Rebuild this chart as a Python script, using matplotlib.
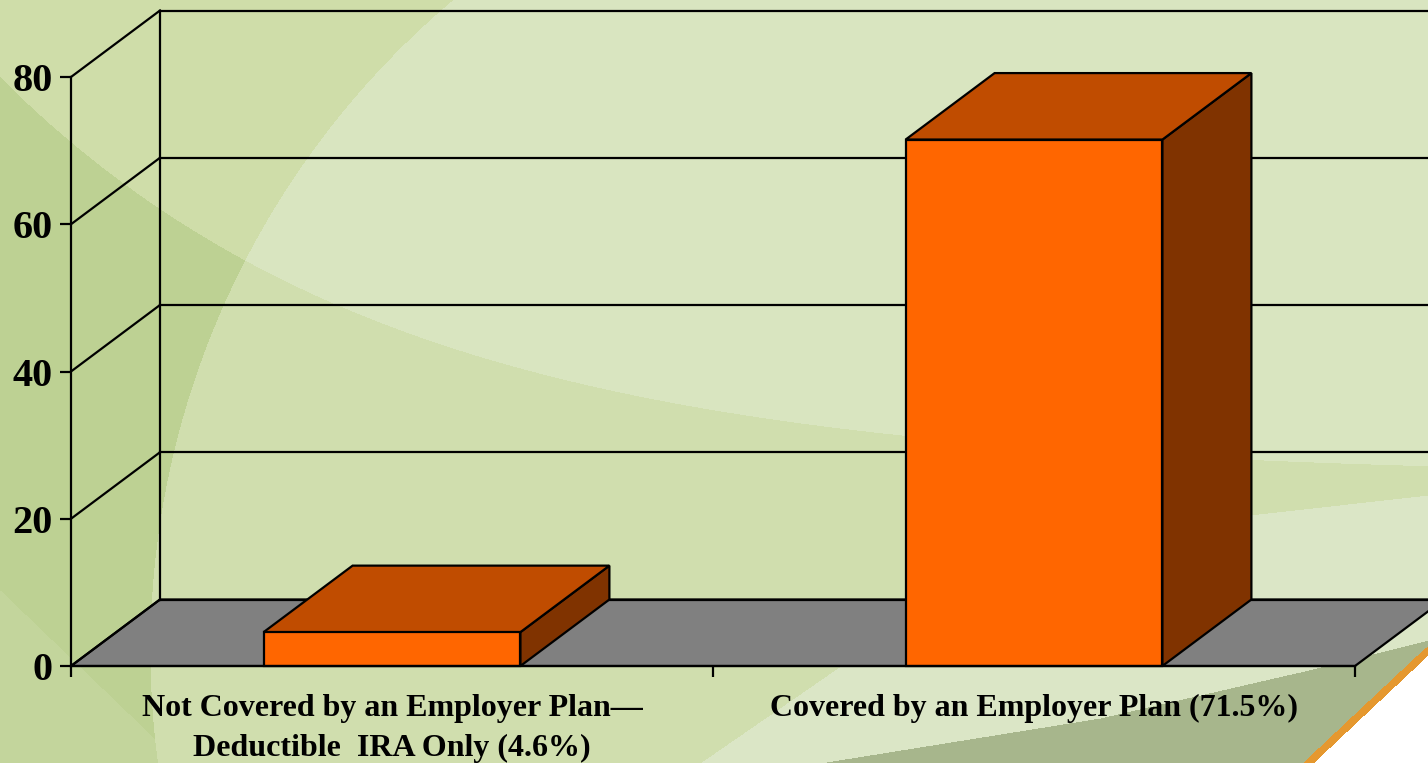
import numpy as np
import matplotlib
matplotlib.use("Agg")
import matplotlib.pyplot as plt
from matplotlib.patches import Polygon, Rectangle

# ---- data ----
categories = ["Not Covered by an Employer Plan\u2014\nDeductible  IRA Only (4.6%)",
              "Covered by an Employer Plan (71.5%)"]
values = [4.6, 71.5]
yticks = [0, 20, 40, 60, 80]

W, H, DPI = 1428, 763, 100
fig = plt.figure(figsize=(W / DPI, H / DPI), dpi=DPI)

# ---- decorative background ----
X, Y = np.meshgrid(np.arange(W), np.arange(H))
def hexrgb(h):
    h = h.lstrip('#')
    return np.array([int(h[i:i + 2], 16) / 255 for i in (0, 2, 4)])
img = np.zeros((H, W, 3))
inside = (X - 1000) ** 2 + (Y - 650) ** 2 < 850 ** 2
ys = 77 + 400 * (1 - np.exp(-X / 400.0))
above = Y < ys
img[inside & above] = hexrgb('#D9E5C0')
img[inside & ~above] = hexrgb('#D0DEAE')
img[~inside & above] = hexrgb('#CFDDA9')
img[~inside & ~above] = hexrgb('#BDD193')
ylow = np.interp(X, [0, 180], [590, 763])
img[(~inside) & (Y > ylow)] = hexrgb('#C3D59C')
yl = np.interp(X, [700, 900, 1100, 1250, 1428], [763, 625, 550, 515, 495])
img[(Y > yl) & (X > 700)] = hexrgb('#DBE6C6')
yb = np.interp(X, [700, 820, 1100, 1300, 1428], [800, 763, 718, 672, 640])
img[Y > yb] = hexrgb('#A7B68C')
xo = np.interp(Y, [640, 655, 700, 763], [1445, 1428, 1380, 1313])
img[(X > xo - 11) & (Y > 600)] = hexrgb('#E5982F')
img[(X > xo) & (Y > 600)] = hexrgb('#FFFFFF')
bg = fig.add_axes([0, 0, 1, 1], zorder=0)
bg.imshow(img, extent=[0, W, H, 0], aspect='auto', interpolation='bilinear')
bg.set_axis_off()

# ---- main axes ----
x0p, x1p, y0p, y1p = 71, 1355, 666, 77
ax = fig.add_axes([x0p / W, (H - y0p) / H, (x1p - x0p) / W, (y0p - y1p) / H], zorder=1)
ax.set_facecolor('none')
n = len(values)
ax.set_xlim(0, n)
ax.set_ylim(0, 80)

px_x = (x1p - x0p) / n
px_y = (y0p - y1p) / 80.0
dx = 89 / px_x
dy = 66.5 / px_y

lw = 1.6
# floor
ax.add_patch(Polygon([(0, 0), (n, 0), (n + dx, dy), (dx, dy)], closed=True,
                     facecolor='#808080', edgecolor='black', lw=lw, clip_on=False, zorder=1))
# walls / gridlines
for v in yticks:
    ax.plot([0, dx], [v, v + dy], color='black', lw=lw, clip_on=False, zorder=2)
    ax.plot([dx, n + dx + 1], [v + dy, v + dy], color='black', lw=lw, clip_on=False, zorder=2)
ax.plot([dx, dx], [dy, 80 + dy], color='black', lw=lw, clip_on=False, zorder=2)

# bars
bw = 0.4
for i, v in enumerate(values):
    a = i + 0.5 - bw / 2
    b = i + 0.5 + bw / 2
    ax.add_patch(Polygon([(b, 0), (b + dx, dy), (b + dx, v + dy), (b, v)], closed=True,
                         facecolor='#803300', edgecolor='black', lw=lw, clip_on=False, zorder=3))
    ax.add_patch(Polygon([(a, v), (b, v), (b + dx, v + dy), (a + dx, v + dy)], closed=True,
                         facecolor='#C04C00', edgecolor='black', lw=lw, clip_on=False, zorder=3))
    ax.add_patch(Rectangle((a, 0), bw, v, facecolor='#FF6600', edgecolor='black',
                           lw=lw, clip_on=False, zorder=4))

# spines & ticks
for s in ['top', 'right']:
    ax.spines[s].set_visible(False)
for s in ['left', 'bottom']:
    ax.spines[s].set_linewidth(lw)
    ax.spines[s].set_zorder(5)
serif = ['Liberation Serif', 'DejaVu Serif']
ax.set_yticks(yticks)
ax.set_yticklabels([str(t) for t in yticks], fontfamily=serif, fontweight='bold', fontsize=29)
ax.tick_params(axis='y', length=8, width=lw, pad=5)
ax.set_xticks([i + 0.5 for i in range(n)])
ax.set_xticklabels(categories, fontfamily=serif, fontweight='bold', fontsize=23, linespacing=1.5)
ax.set_xticks(list(range(n + 1)), minor=True)
ax.tick_params(axis='x', which='major', length=0, pad=20)
ax.tick_params(axis='x', which='minor', length=8, width=lw, direction='out')

fig.savefig('out.png', dpi=DPI)
